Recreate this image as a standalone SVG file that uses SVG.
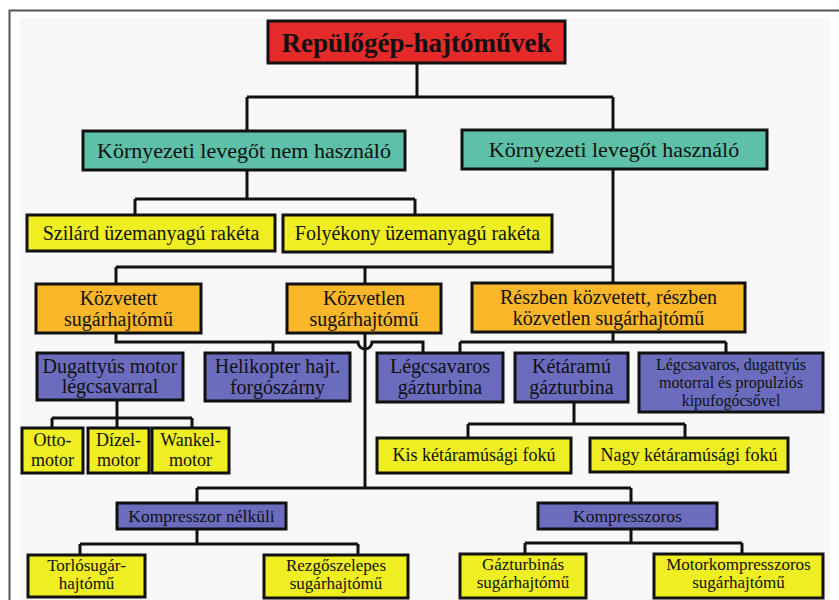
<svg xmlns="http://www.w3.org/2000/svg" width="839" height="600" viewBox="0 0 839 600" font-family="'Liberation Serif', 'Times New Roman', serif">
<style>
.b{stroke:#111;stroke-width:3}
.red{fill:#e52a2a}.teal{fill:#5ec0a8}.yel{fill:#eeee22}.org{fill:#fbb62a}.pur{fill:#6b6cbd}
text{font-family:"Liberation Serif","Times New Roman",serif;fill:#111;text-anchor:middle}
.t{font-size:27px;font-weight:bold}
.l{font-size:22px}
.m{font-size:20px}
.s{font-size:18px}
.p{font-size:16px}
.xs{font-size:17.5px}
.bt{font-size:17px}
.c{fill:none;stroke:#111;stroke-width:3}
</style>
<rect x="0" y="0" width="839" height="600" fill="#ffffff"/>
<rect x="20" y="18" width="810" height="590" fill="#f8f8f8"/>
<path d="M9.5 620 V10.5 H860" fill="none" stroke="#555" stroke-width="2"/>
<g id="connectors">
<path class="c" d="M417 63 V97 M247 97 H613 M247 97 V131 M613 97 V130"/>
<path class="c" d="M247 170 V199 M135 199 H415 M135 199 V215 M415 199 V215"/>
<path class="c" d="M613 169 V283 M116 267 H613 M116 267 V284 M365 267 V284"/>
<path class="c" d="M116 333 V342 H358 A7 7 0 0 0 372 342 H423 V353 M273 342 V353"/>
<path class="c" d="M365 333 V488"/>
<path class="c" d="M613 332 V342 M460 342 H726 M460 342 V353 M726 342 V353"/>
<path class="c" d="M117 400 V418 M52 418 H192 M52 418 V428 M117 418 V428 M192 418 V428"/>
<path class="c" d="M574 402 V424 M468 424 H685 M468 424 V438 M685 424 V438"/>
<path class="c" d="M197 488 H631 M197 488 V503 M631 488 V503"/>
<path class="c" d="M197 529 V544 M80 544 H358 M80 544 V555 M358 544 V555"/>
<path class="c" d="M631 529 V543 M525 543 H742 M525 543 V554 M742 543 V554"/>
</g>
<g id="title"><rect class="b red" x="268" y="21" width="297" height="42"/><text class="t" x="416.5" y="52">Repülőgép-hajtóművek</text></g>
<g id="envNo"><rect class="b teal" x="83" y="131" width="322" height="39"/><text class="l" x="244" y="158">Környezeti levegőt nem használó</text></g>
<g id="env"><rect class="b teal" x="462" y="130" width="305" height="39"/><text class="l" x="614" y="157">Környezeti levegőt használó</text></g>
<g id="solid"><rect class="b yel" x="27" y="215" width="248" height="36"/><text class="m" x="151" y="240">Szilárd üzemanyagú rakéta</text></g>
<g id="liquid"><rect class="b yel" x="283" y="215" width="269" height="37"/><text class="m" x="417.5" y="240">Folyékony üzemanyagú rakéta</text></g>
<g id="indirect"><rect class="b org" x="36" y="284" width="165" height="49"/><text class="m" x="118.5" y="305">Közvetett</text><text class="m" x="118.5" y="326">sugárhajtómű</text></g>
<g id="direct"><rect class="b org" x="287" y="284" width="154" height="49"/><text class="m" x="364" y="305">Közvetlen</text><text class="m" x="364" y="326">sugárhajtómű</text></g>
<g id="partial"><rect class="b org" x="472" y="283" width="273" height="49"/><text class="m" x="608.5" y="304">Részben közvetett, részben</text><text class="m" x="608.5" y="325">közvetlen sugárhajtómű</text></g>
<g id="piston"><rect class="b pur" x="37" y="353" width="146" height="47"/><text class="m" x="110" y="373">Dugattyús motor</text><text class="m" x="110" y="393">légcsavarral</text></g>
<g id="heli"><rect class="b pur" x="205" y="353" width="145" height="48"/><text class="m" x="277.5" y="373">Helikopter hajt.</text><text class="m" x="277.5" y="394">forgószárny</text></g>
<g id="turboprop"><rect class="b pur" x="377" y="353" width="126" height="49"/><text class="m" x="440" y="373">Légcsavaros</text><text class="m" x="440" y="394">gázturbina</text></g>
<g id="turbofan"><rect class="b pur" x="515" y="353" width="113" height="49"/><text class="m" x="571.5" y="373">Kétáramú</text><text class="m" x="571.5" y="394">gázturbina</text></g>
<g id="propfan"><rect class="b pur" x="639" y="353" width="184" height="59"/><text class="p" x="731" y="370">Légcsavaros, dugattyús</text><text class="p" x="731" y="388">motorral és propulziós</text><text class="p" x="731" y="406">kipufogócsővel</text></g>
<g id="otto"><rect class="b yel" x="22" y="428" width="61" height="45"/><text class="s" x="52.5" y="446">Otto-</text><text class="s" x="52.5" y="466">motor</text></g>
<g id="diesel"><rect class="b yel" x="88" y="428" width="61" height="45"/><text class="s" x="118.5" y="446">Dízel-</text><text class="s" x="118.5" y="466">motor</text></g>
<g id="wankel"><rect class="b yel" x="152" y="428" width="77" height="45"/><text class="s" x="190.5" y="446">Wankel-</text><text class="s" x="190.5" y="466">motor</text></g>
<g id="lowbypass"><rect class="b yel" x="377" y="438" width="194" height="35"/><text class="s" x="474" y="461">Kis kétáramúsági fokú</text></g>
<g id="highbypass"><rect class="b yel" x="590" y="438" width="198" height="34"/><text class="s" x="689" y="461">Nagy kétáramúsági fokú</text></g>
<g id="noComp"><rect class="b pur" x="117" y="503" width="169" height="26"/><text class="xs" x="201.5" y="522">Kompresszor nélküli</text></g>
<g id="comp"><rect class="b pur" x="538" y="503" width="179" height="26"/><text class="xs" x="627.5" y="522">Kompresszoros</text></g>
<g id="ramjet"><rect class="b yel" x="28" y="555" width="117" height="42"/><text class="bt" x="86.5" y="571">Torlósugár-</text><text class="bt" x="86.5" y="589">hajtómű</text></g>
<g id="pulsejet"><rect class="b yel" x="264" y="555" width="144" height="43"/><text class="bt" x="336" y="571">Rezgőszelepes</text><text class="bt" x="336" y="589">sugárhajtómű</text></g>
<g id="turbojet"><rect class="b yel" x="460" y="554" width="126" height="44"/><text class="bt" x="523" y="570">Gázturbinás</text><text class="bt" x="523" y="588">sugárhajtómű</text></g>
<g id="motorjet"><rect class="b yel" x="654" y="554" width="169" height="44"/><text class="bt" x="738.5" y="570">Motorkompresszoros</text><text class="bt" x="738.5" y="588">sugárhajtómű</text></g>
</svg>
